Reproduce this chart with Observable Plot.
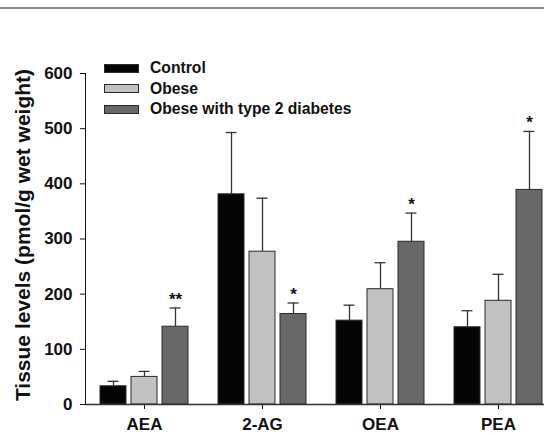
<!DOCTYPE html>
<html>
<head>
<meta charset="utf-8">
<script src="https://cdn.jsdelivr.net/npm/d3@7"></script>
<script src="https://cdn.jsdelivr.net/npm/@observablehq/plot@0.6"></script>
<style>
  html, body { margin: 0; padding: 0; background: #fff; overflow: hidden; }
  #wrap { position: relative; width: 544px; height: 433px; font-family: "Liberation Sans", Arial, sans-serif; color: #111; }
  #wrap svg { position: absolute; left: 0; top: 0; }
  #wrap svg text { font-size: 17px !important; font-weight: bold !important; }
  #topline { position: absolute; left: 0; top: 7px; width: 544px; height: 0; border-top: 2px solid #8c8c8c; }
  #ylabel { position: absolute; left: 23px; top: 235px; transform: translate(-50%, -50%) rotate(-90deg); white-space: nowrap; font-weight: bold; font-size: 21px; }
  #legend { position: absolute; left: 104px; top: 58px; }
  .lrow { display: flex; align-items: center; height: 20.5px; }
  .sw { width: 33px; height: 7px; border: 1px solid #2a2a2a; margin-right: 11px; }
  .lt { font-size: 15.7px; font-weight: bold; }
</style>
</head>
<body>
<div id="wrap">
  <div id="topline"></div>
</div>
<script>
const categories = ["AEA", "2-AG", "OEA", "PEA"];
const groups = ["Control", "Obese", "Obese with type 2 diabetes"];
const colors = ["#050505", "#c1c1c1", "#686868"];
const controlValues = [33, 381, 152, 140];
const controlErrors = [9, 112, 28, 30];
const obeseValues = [50, 277, 209, 188];
const obeseErrors = [10, 97, 48, 48];
const diabetesValues = [141, 164, 295, 389];
const diabetesErrors = [34, 20, 52, 106];
const diabetesSignif = ["**", "*", "*", "*"];
const yTicks = [0, 100, 200, 300, 400, 500, 600];
const yLabel = "Tissue levels (pmol/g wet weight)";

const series = [
  {group: groups[0], values: controlValues, errors: controlErrors, sig: null},
  {group: groups[1], values: obeseValues, errors: obeseErrors, sig: null},
  {group: groups[2], values: diabetesValues, errors: diabetesErrors, sig: diabetesSignif}
];
const rows = [];
categories.forEach((c, i) => {
  series.forEach(s => {
    rows.push({category: c, group: s.group, value: s.values[i], top: s.values[i] + s.errors[i], sig: s.sig ? s.sig[i] : ""});
  });
});

const chart = Plot.plot({
  width: 544,
  height: 433,
  marginLeft: 84,
  marginTop: 73,
  marginBottom: 29,
  marginRight: -13,
  style: {fontFamily: "'Liberation Sans', Arial, sans-serif", fontSize: "17px", fontWeight: "bold", color: "#111", background: "transparent", overflow: "visible"},
  fx: {domain: categories, padding: 0, label: null, axis: "bottom", tickSize: 5, tickPadding: 8},
  x: {domain: groups, axis: null, paddingInner: 0.175, paddingOuter: 0.465},
  y: {domain: [0, 600], ticks: yTicks, tickSize: 5, tickPadding: 8, line: true, label: null},
  color: {domain: groups, range: colors},
  marks: [
    Plot.barY(rows, {fx: "category", x: "group", y: "value", fill: "group", stroke: "#2a2a2a", strokeWidth: 1}),
    Plot.ruleX(rows, {fx: "category", x: "group", y1: "value", y2: "top", stroke: "#333", strokeWidth: 1.3}),
    Plot.tickY(rows, {fx: "category", x: "group", y: "top", insetLeft: 7.5, insetRight: 7.5, stroke: "#333", strokeWidth: 1.3}),
    Plot.text(rows.filter(d => d.sig), {fx: "category", x: "group", y: "top", text: "sig", dy: -3, lineAnchor: "bottom", fontSize: 17, fontWeight: "bold"}),
    Plot.ruleY([0], {stroke: "#333", strokeWidth: 1.3})
  ]
});

const wrap = document.getElementById("wrap");
wrap.appendChild(chart);

const yl = document.createElement("div");
yl.id = "ylabel";
yl.textContent = yLabel;
wrap.appendChild(yl);

const legend = d3.select(wrap).append("div").attr("id", "legend");
groups.forEach((g, i) => {
  const r = legend.append("div").attr("class", "lrow");
  r.append("div").attr("class", "sw").style("background", colors[i]);
  r.append("div").attr("class", "lt").text(g);
});
</script>
</body>
</html>
